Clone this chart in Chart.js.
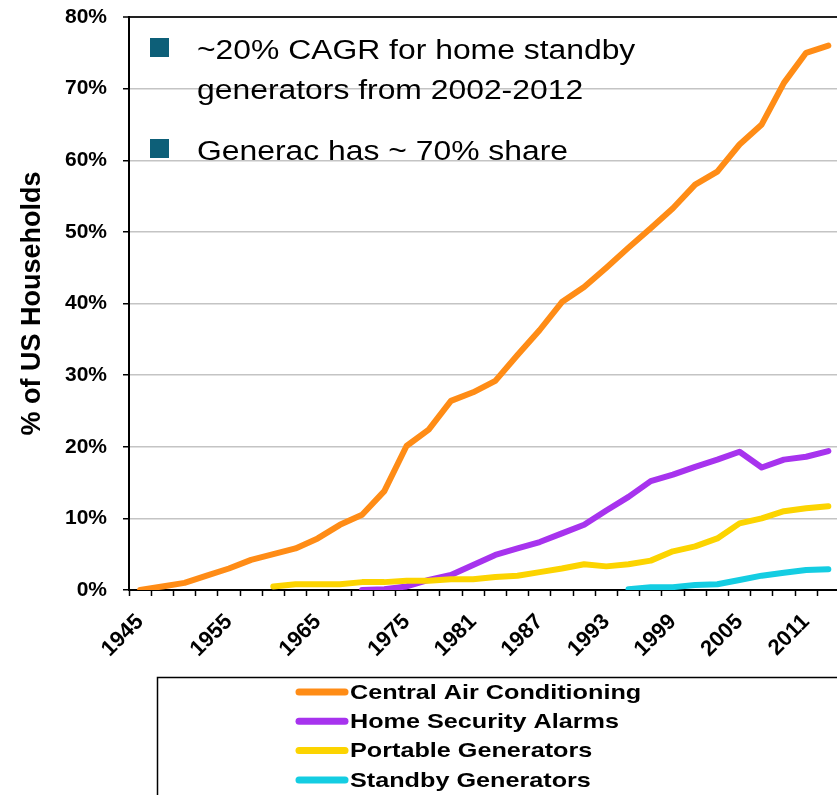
<!DOCTYPE html>
<html lang="en">
<head>
    <meta charset="UTF-8">
    <title>% of US Households</title>
    <script src="https://cdn.jsdelivr.net/npm/chart.js@4.4.1/dist/chart.umd.min.js"></script>
    <style>
        html, body { margin: 0; padding: 0; background: #fff; overflow: hidden; }
        #wrap { width: 860px; height: 795px; }
    </style>
</head>
<body>
    <div id="wrap"><canvas id="chart" width="860" height="795"></canvas></div>

    <script>
        // category labels (only some are printed on the axis)
        const categories = ['1945', '', '', '', '1955', '', '', '', '1965', '', '', '', '1975', '', '', '1981',
            '', '', '1987', '', '', '1993', '', '', '1999', '', '', '2005', '', '', '2011', ''];

        // % of US households
        const centralAir = [0, 0.5, 1.0, 2.0, 3.0, 4.2, 5.0, 5.8, 7.2, 9.1, 10.5, 13.8, 20.1, 22.4, 26.4, 27.6,
            29.2, 32.8, 36.3, 40.2, 42.3, 45.0, 47.8, 50.5, 53.3, 56.6, 58.4, 62.2, 65.0, 70.8, 75.0, 76.0];
        const securityAlarms = [null, null, null, null, null, null, null, null, null, null, 0, 0.1, 0.5, 1.4, 2.1, 3.5,
            4.9, 5.8, 6.7, 7.9, 9.1, 11.1, 13.0, 15.2, 16.1, 17.2, 18.2, 19.3, 17.1, 18.2, 18.6, 19.4];
        const portableGen = [null, null, null, null, null, null, 0.5, 0.8, 0.8, 0.8, 1.1, 1.1, 1.3, 1.3, 1.5, 1.5,
            1.8, 2.0, 2.5, 3.0, 3.6, 3.3, 3.6, 4.1, 5.4, 6.1, 7.2, 9.3, 10.0, 11.0, 11.4, 11.7];
        const standbyGen = [null, null, null, null, null, null, null, null, null, null, null, null, null, null, null, null,
            null, null, null, null, null, null, 0.1, 0.4, 0.4, 0.7, 0.8, 1.4, 2.0, 2.4, 2.8, 2.9];

        const seriesNames = ['Central Air Conditioning', 'Home Security Alarms', 'Portable Generators', 'Standby Generators'];
        const seriesColors = ['#FF8C16', '#A733EE', '#FCD400', '#14CDE2'];

        const notes = [
            { text: '~20% CAGR for home standby', bullet: true },
            { text: 'generators from 2002-2012', bullet: false },
            { text: 'Generac has ~ 70% share', bullet: true }
        ];

        const FONT = "'Liberation Sans', Arial, sans-serif";

        // text box with the bullets + the bordered legend under the axis
        const extrasPlugin = {
            id: 'extras',
            afterDraw(chart) {
                const ctx = chart.ctx;
                ctx.save();

                // notes
                const baselines = [59, 99, 160];
                ctx.font = '27px ' + FONT;
                ctx.textBaseline = 'alphabetic';
                ctx.textAlign = 'left';
                notes.forEach((n, i) => {
                    if (n.bullet) {
                        ctx.fillStyle = '#0D5F78';
                        ctx.fillRect(150, baselines[i] - 21, 19, 19);
                    }
                    ctx.fillStyle = '#000';
                    ctx.save();
                    ctx.translate(197, baselines[i]);
                    ctx.scale(1.18, 1);
                    ctx.fillText(n.text, 0, 0);
                    ctx.restore();
                });

                // legend box
                ctx.strokeStyle = '#000';
                ctx.lineWidth = 1.5;
                ctx.strokeRect(157.5, 677.5, 720, 160);

                ctx.font = 'bold 21px ' + FONT;
                ctx.textBaseline = 'middle';
                chart.data.datasets.forEach((ds, i) => {
                    const y = 692 + i * 29.3;
                    ctx.strokeStyle = ds.borderColor;
                    ctx.lineWidth = 7;
                    ctx.lineCap = 'round';
                    ctx.beginPath();
                    ctx.moveTo(299, y);
                    ctx.lineTo(345, y);
                    ctx.stroke();
                    ctx.fillStyle = '#000';
                    ctx.save();
                    ctx.translate(350, y + 1);
                    ctx.scale(1.2, 1);
                    ctx.fillText(ds.label, 0, 0);
                    ctx.restore();
                });
                ctx.restore();
            }
        };

        const allData = [centralAir, securityAlarms, portableGen, standbyGen];

        new Chart(document.getElementById('chart'), {
            type: 'line',
            data: {
                labels: categories,
                datasets: allData.map((d, i) => ({
                    label: seriesNames[i],
                    data: d,
                    borderColor: seriesColors[i],
                    backgroundColor: seriesColors[i],
                    borderWidth: 6,
                    borderCapStyle: 'round',
                    borderJoinStyle: 'round',
                    pointRadius: 0,
                    tension: 0,
                    fill: false,
                    order: 4 - i
                }))
            },
            options: {
                responsive: false,
                animation: false,
                layout: { padding: { top: 17, left: 0, right: 0, bottom: 0 } },
                plugins: {
                    legend: { display: false },
                    tooltip: { enabled: false }
                },
                scales: {
                    x: {
                        type: 'category',
                        offset: true,
                        afterFit: (s) => { s.height = 205; },
                        border: { color: '#000', width: 2 },
                        grid: {
                            offset: true,
                            drawOnChartArea: false,
                            drawTicks: true,
                            tickLength: 6,
                            tickColor: '#000',
                            tickWidth: 1.5
                        },
                        ticks: {
                            autoSkip: false,
                            maxRotation: 45,
                            minRotation: 45,
                            padding: 13,
                            color: '#000',
                            font: { family: FONT, size: 22, weight: 'bold' }
                        }
                    },
                    y: {
                        min: 0,
                        max: 80,
                        afterFit: (s) => {
                            s.width = 129;
                            s.paddingTop = 0;
                            s.paddingBottom = 0;
                        },
                        border: { color: '#000', width: 2 },
                        grid: {
                            color: (c) => c.tick && c.tick.value === 80 ? '#222' : '#C4C4C4',
                            lineWidth: (c) => c.tick && c.tick.value === 80 ? 2 : 1.5,
                            tickLength: 6,
                            tickColor: '#000',
                            tickWidth: 1.5
                        },
                        ticks: {
                            stepSize: 10,
                            padding: 16,
                            color: '#000',
                            font: { family: FONT, size: 21, weight: 'bold' },
                            callback: (v) => v + '%'
                        },
                        title: {
                            display: true,
                            text: '% of US Households',
                            color: '#000',
                            padding: { top: 16, bottom: 0 },
                            font: { family: FONT, size: 27, weight: 'bold' }
                        }
                    }
                }
            },
            plugins: [extrasPlugin]
        });
    </script>
</body>
</html>
